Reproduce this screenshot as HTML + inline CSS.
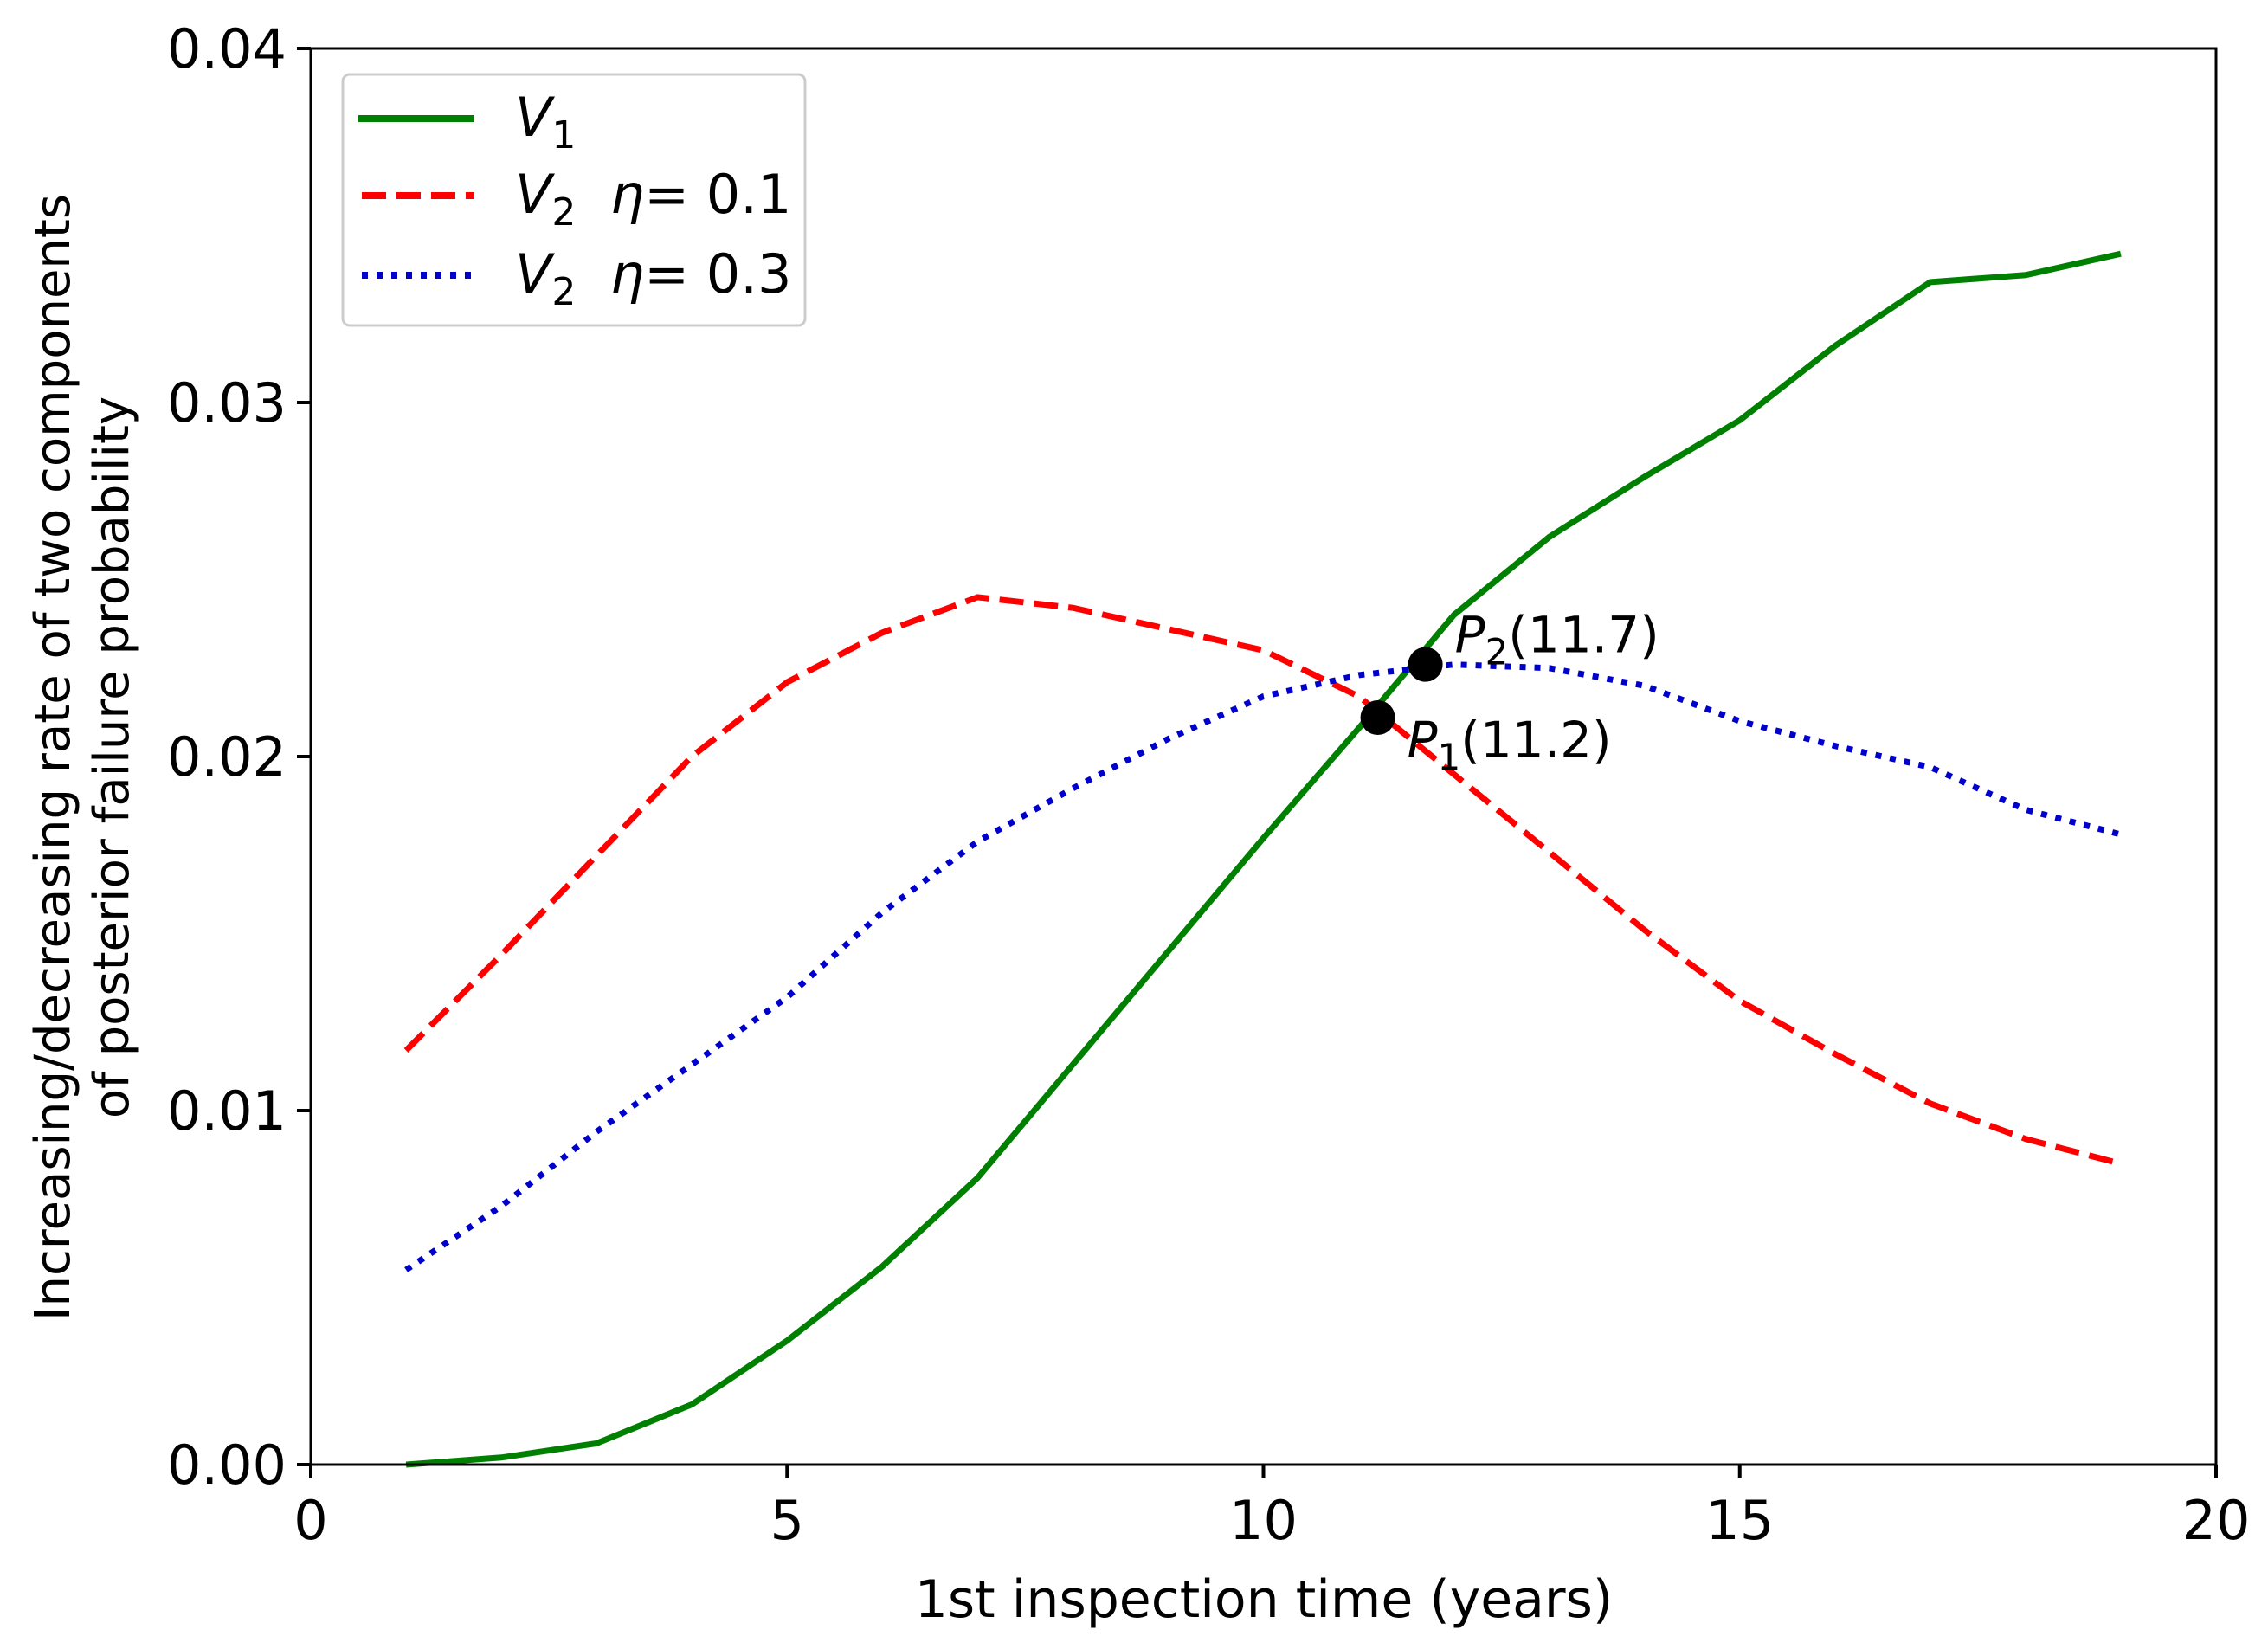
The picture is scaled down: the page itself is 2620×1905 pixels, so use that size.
<!DOCTYPE html>
<html><head><meta charset="utf-8"><style>
body{margin:0;background:#fff;}
svg{display:block;font-family:"DejaVu Sans","Liberation Sans",sans-serif;}
</style></head><body>
<svg id="chart" width="2620" height="1905" viewBox="0 0 2620 1905">
<rect width="2620" height="1905" fill="#fff"/>
<g id="plot"></g>
</svg>
<script>
const years = [1,2,3,4,5,6,7,8,9,10,11,12,13,14,15,16,17,18,19];
const v1 = [0,0.0002,0.0006,0.0017,0.0035,0.0056,0.0081,0.0113,0.0145,0.0177,0.0208,0.0240,0.0262,0.0279,0.0295,0.0316,0.0334,0.0336,0.0342];
const v2eta01 = [0.0117,0.0144,0.0172,0.0200,0.0221,0.0235,0.0245,0.0242,0.0236,0.0230,0.0217,0.0195,0.0173,0.0151,0.0131,0.0116,0.0102,0.0092,0.0085];
const v2eta03 = [0.0055,0.0073,0.0094,0.0113,0.0132,0.0156,0.0176,0.0191,0.0205,0.0217,0.0223,0.0226,0.0225,0.0220,0.0210,0.0203,0.0197,0.0185,0.0178];
const xTicks = [0,5,10,15,20];
const yTicks = [0,0.01,0.02,0.03,0.04];
const yTickLabels = ["0.00","0.01","0.02","0.03","0.04"];
const markerX = [11.2,11.7];
const markerY = [0.0211,0.0226];
const markerNames = ["1","2"];
const markerVals = ["11.2","11.7"];

const L=359,R=2560,T=56,B=1692;
const sx=x=>L+(x-0)/(20-0)*(R-L);
const sy=y=>B-(y-0)/(0.04-0)*(B-T);
const NS='http://www.w3.org/2000/svg';
const g=document.getElementById('plot');
function mk(tag,attrs,parent){const e=document.createElementNS(NS,tag);for(const k in attrs)e.setAttribute(k,attrs[k]);(parent||g).appendChild(e);return e;}

function series(data,color,dash,w,name){
  const d=years.map((x,i)=>(i?'L':'M')+sx(x).toFixed(1)+' '+sy(data[i]).toFixed(1)).join(' ');
  const p=mk('path',{d:d,fill:'none',stroke:color,'stroke-width':w,'stroke-dasharray':dash});
  
  
}
series(v1,'#008000','none',7,'series-v1');
series(v2eta01,'#ff0000','28 12',7,'series-v2-eta-0.1');
series(v2eta03,'#0000cc','7 10',7,'series-v2-eta-0.3');

markerX.forEach((x,i)=>{
  const c=mk('circle',{cx:sx(x),cy:sy(markerY[i]),r:20,fill:'#000'});
  
  
  const t=mk('text',{x:sx(x)+34,y:sy(markerY[i])+(i==0?46:-14),'font-size':58});
  
  
  t.innerHTML='<tspan font-style="italic">P</tspan><tspan font-size="42" dy="14">'+markerNames[i]+'</tspan><tspan dy="-14">('+markerVals[i]+')</tspan>';
});

const fr=mk('rect',{x:L,y:T,width:R-L,height:B-T,fill:'none',stroke:'#000','stroke-width':3});



xTicks.forEach(v=>{
  mk('line',{x1:sx(v),x2:sx(v),y1:B,y2:B+16,stroke:'#000','stroke-width':4});
  const t=mk('text',{x:sx(v),y:B+86,'font-size':62,'text-anchor':'middle'});
  
  
  t.textContent=v;
});
yTicks.forEach((v,i)=>{
  mk('line',{x1:L-16,x2:L,y1:sy(v),y2:sy(v),stroke:'#000','stroke-width':4});
  const t=mk('text',{x:L-28,y:sy(v)+22,'font-size':62,'text-anchor':'end'});
  
  
  t.textContent=yTickLabels[i];
});
</script>
<div style="position:absolute;left:0;top:0;">
<svg width="2620" height="1905" style="position:absolute;left:0;top:0;pointer-events:none">
<text x="1460" y="1868" font-size="60" text-anchor="middle" font-family="DejaVu Sans, Liberation Sans, sans-serif">1st inspection time (years)</text>
<g transform="translate(80,875) rotate(-90)">
<text x="0" y="0" font-size="56" text-anchor="middle" font-family="DejaVu Sans, Liberation Sans, sans-serif">Increasing/decreasing rate of two components</text>
<text x="0" y="68" font-size="56" text-anchor="middle" font-family="DejaVu Sans, Liberation Sans, sans-serif">of posterior failure probability</text>
</g>
<g font-family="DejaVu Sans, Liberation Sans, sans-serif">
<rect x="396" y="86" width="534" height="290" rx="8" fill="#fff" fill-opacity="0.85" stroke="#ccc" stroke-width="3"/>
<line x1="414" y1="137" x2="548" y2="137" stroke="#008000" stroke-width="8"/>
<text x="595" y="157" font-size="62"><tspan font-style="italic">V</tspan><tspan font-size="44" dy="14">1</tspan></text>
<line x1="418" y1="226" x2="548" y2="226" stroke="#ff0000" stroke-width="8" stroke-dasharray="28 12"/>
<text x="595" y="246" font-size="62"><tspan font-style="italic">V</tspan><tspan font-size="44" dy="14">2</tspan><tspan dy="-14" xml:space="preserve">  </tspan><tspan font-style="italic">η</tspan>= 0.1</text>
<line x1="418" y1="318" x2="548" y2="318" stroke="#0000cc" stroke-width="8" stroke-dasharray="7 10"/>
<text x="595" y="338" font-size="62"><tspan font-style="italic">V</tspan><tspan font-size="44" dy="14">2</tspan><tspan dy="-14" xml:space="preserve">  </tspan><tspan font-style="italic">η</tspan>= 0.3</text>
</g>
</svg>
</div>
</body></html>
